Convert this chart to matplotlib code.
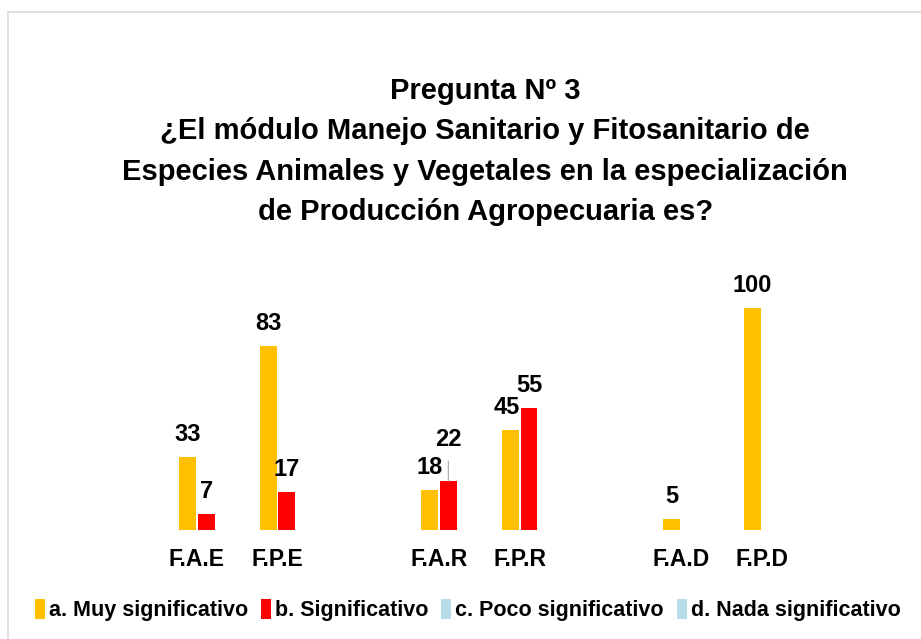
import matplotlib
matplotlib.use("Agg")
from matplotlib import pyplot as plt
from matplotlib.patches import Patch
from matplotlib.lines import Line2D
import numpy as np

plt.rcParams['font.family'] = ['Liberation Sans Narrow', 'Liberation Sans', 'DejaVu Sans']
plt.rcParams['font.weight'] = 'bold'

# datos
categorias = ["F.A.E", "F.P.E", "", "F.A.R", "F.P.R", "", "F.A.D", "F.P.D"]
muy_sig = [33, 83, None, 18, 45, None, 5, 100]
sig = [7, 17, None, 22, 55, None, None, None]
poco_sig = [None] * 8
nada_sig = [None] * 8
series = ["a. Muy significativo", "b. Significativo", "c. Poco significativo", "d. Nada significativo"]
colores = ["#FFC000", "#FF0000", "#B7DEE8", "#B7DEE8"]

titulo = ("Pregunta Nº 3\n"
          "¿El módulo Manejo Sanitario y Fitosanitario de\n"
          "Especies Animales y Vegetales en la especialización\n"
          "de Producción Agropecuaria es?")

fig = plt.figure(figsize=(9.21, 6.39), dpi=100)
ax = fig.add_axes([0.170, 0.1706, 0.701, 0.382])

x = np.arange(len(categorias))
w = 0.21
def limpiar(v):
    return [np.nan if i is None else i for i in v]

b1 = ax.bar(x - w / 2 - 0.01, limpiar(muy_sig), w, color=colores[0])
b2 = ax.bar(x + w / 2 + 0.01, limpiar(sig), w, color=colores[1])

for rects, vals in ((b1, muy_sig), (b2, sig)):
    for r, v in zip(rects, vals):
        if v is None:
            continue
        dy = 8
        dx = 0
        if v == 22:
            dy = 22
        if v == 45:
            dx = -3
        ax.annotate(str(v), (r.get_x() + r.get_width() / 2, v), xytext=(dx, dy),
                    textcoords="offset points", ha="center", va="bottom",
                    fontsize=17, fontweight="bold")
        if v == 22:
            ax.annotate("", (r.get_x() + r.get_width() / 2, v), xytext=(0, 14.5),
                        textcoords="offset points",
                        arrowprops=dict(arrowstyle="-", color="#A6A6A6", lw=0.8,
                                        shrinkA=0, shrinkB=0))

ax.set_xlim(-0.5, len(categorias) - 0.5)
ax.set_ylim(0, 110)
ax.set_xticks(x)
ax.set_xticklabels(categorias, fontsize=16.5, fontweight="bold")
ax.tick_params(axis="x", length=0, pad=13)
ax.set_yticks([])
for s in ax.spines.values():
    s.set_visible(False)

fig.text(0.527, 0.879, titulo, ha="center", va="top", fontsize=21,
         fontweight="bold", linespacing=1.55)

handles = [Patch(facecolor=c, edgecolor="none") for c in colores]
fig.legend(handles, series, loc="center", bbox_to_anchor=(0.508, 0.045), ncol=4,
           frameon=False, handlelength=0.45, handleheight=1.0,
           handletextpad=0.2, columnspacing=0.6, prop={'weight': 'bold', 'size': 15.5})

# marco del grafico
fig.add_artist(Line2D([8 / 921, 8 / 921], [0, 1 - 12 / 639], color="#D9D9D9", lw=1.2))
fig.add_artist(Line2D([8 / 921, 1], [1 - 12 / 639, 1 - 12 / 639], color="#D9D9D9", lw=1.2))

fig.savefig("out.png", dpi=100)
